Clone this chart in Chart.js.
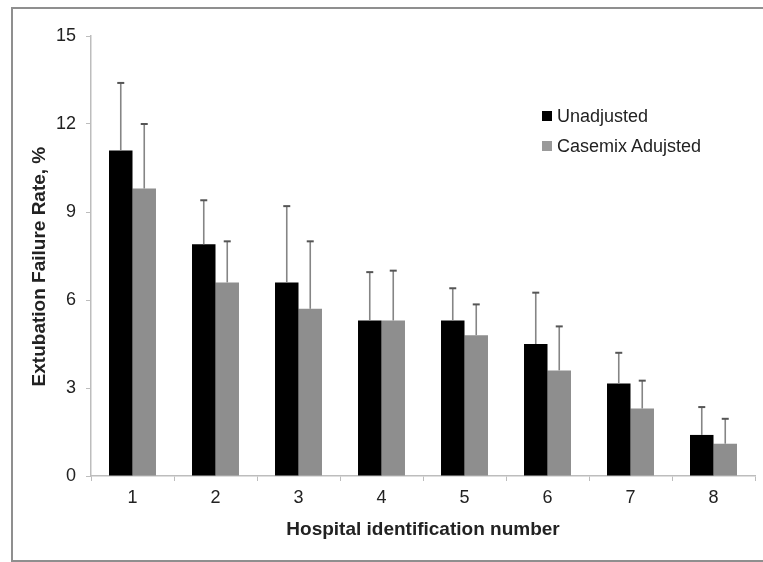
<!DOCTYPE html>
<html>
<head>
<meta charset="utf-8">
<script src="https://cdn.jsdelivr.net/npm/chart.js@4/dist/chart.umd.min.js"></script>
<style>
  html, body { margin: 0; padding: 0; background: #fff; }
  #wrap { position: relative; width: 763px; height: 562px; overflow: hidden; }
  #frame { position: absolute; left: 11px; top: 7px; width: 800px; height: 551px; border: 2px solid #8f8f8f; box-sizing: content-box; pointer-events: none; }
  #legend { position: absolute; left: 542px; top: 101px; font-family: "Liberation Sans", Arial, sans-serif; font-size: 18px; color: #222; }
  .row { height: 30px; line-height: 24px; display: flex; align-items: center; }
  .sw { width: 10px; height: 10px; margin-right: 5px; }
</style>
</head>
<body>
<div id="wrap">
  <canvas id="c" width="763" height="562"></canvas>
  <div id="frame"></div>
  <div id="legend"></div>
</div>
<script>
const categories = ["1", "2", "3", "4", "5", "6", "7", "8"];
const seriesNames = ["Unadjusted", "Casemix Adujsted"];
const unadjusted = [11.1, 7.9, 6.6, 5.3, 5.3, 4.5, 3.15, 1.4];
const unadjustedUpper = [13.4, 9.4, 9.2, 6.95, 6.4, 6.25, 4.2, 2.35];
const adjusted = [9.8, 6.6, 5.7, 5.3, 4.8, 3.6, 2.3, 1.1];
const adjustedUpper = [12.0, 8.0, 8.0, 7.0, 5.85, 5.1, 3.25, 1.95];
const yTicks = [0, 3, 6, 9, 12, 15];
const colors = ["#000000", "#8e8e8e"];

const FONT = "'Liberation Sans', Arial, sans-serif";

const errorBars = {
  id: 'errorBars',
  afterDatasetsDraw(chart) {
    const ctx = chart.ctx;
    const y = chart.scales.y;
    const uppers = [unadjustedUpper, adjustedUpper];
    chart.data.datasets.forEach((ds, i) => {
      const meta = chart.getDatasetMeta(i);
      meta.data.forEach((bar, j) => {
        const top = y.getPixelForValue(uppers[i][j]);
        ctx.save();
        ctx.strokeStyle = '#858585';
        ctx.lineWidth = 1.6;
        ctx.beginPath();
        ctx.moveTo(bar.x, bar.y);
        ctx.lineTo(bar.x, top);
        ctx.stroke();
        ctx.strokeStyle = '#555';
        ctx.lineWidth = 2;
        ctx.beginPath();
        ctx.moveTo(bar.x - 3.5, top);
        ctx.lineTo(bar.x + 3.5, top);
        ctx.stroke();
        ctx.restore();
      });
    });
  }
};

new Chart(document.getElementById('c'), {
  type: 'bar',
  data: {
    labels: categories,
    datasets: [
      { label: seriesNames[0], data: unadjusted, backgroundColor: colors[0] },
      { label: seriesNames[1], data: adjusted, backgroundColor: colors[1] }
    ]
  },
  options: {
    responsive: false,
    animation: false,
    events: [],
    layout: { padding: { left: 0, right: 8, top: 36, bottom: 0 } },
    datasets: { bar: { categoryPercentage: 0.566, barPercentage: 1.0 } },
    plugins: { legend: { display: false }, tooltip: { enabled: false } },
    scales: {
      x: {
        grid: { drawOnChartArea: false, drawTicks: true, tickLength: 5, color: '#bdbdbd', offset: true },
        border: { color: '#bdbdbd', width: 1.5 },
        ticks: { color: '#222', font: { family: FONT, size: 18 }, padding: 6 },
        title: { display: true, text: 'Hospital identification number', color: '#222', font: { family: FONT, size: 19, weight: 'bold' }, padding: { top: 0, bottom: 21 } },
        afterFit(scale) { scale.height = 86; }
      },
      y: {
        min: 0, max: 15,
        afterBuildTicks(scale) { scale.ticks = yTicks.map(v => ({ value: v })); },
        grid: { drawOnChartArea: false, drawTicks: true, tickLength: 5, color: '#bdbdbd' },
        border: { color: '#bdbdbd', width: 1.5 },
        ticks: { color: '#222', font: { family: FONT, size: 18 }, padding: 10 },
        title: { display: true, text: 'Extubation Failure Rate, %    ', color: '#222', font: { family: FONT, size: 19, weight: 'bold' }, padding: { top: 28, bottom: 0 } },
        afterFit(scale) { scale.width = 91; }
      }
    }
  },
  plugins: [errorBars]
});

const leg = document.getElementById('legend');
seriesNames.forEach((n, i) => {
  const r = document.createElement('div');
  r.className = 'row';
  const s = document.createElement('span');
  s.className = 'sw';
  s.style.background = i === 0 ? colors[0] : '#9a9a9a';
  const t = document.createElement('span');
  t.textContent = n;
  r.appendChild(s); r.appendChild(t);
  leg.appendChild(r);
});
</script>
</body>
</html>
